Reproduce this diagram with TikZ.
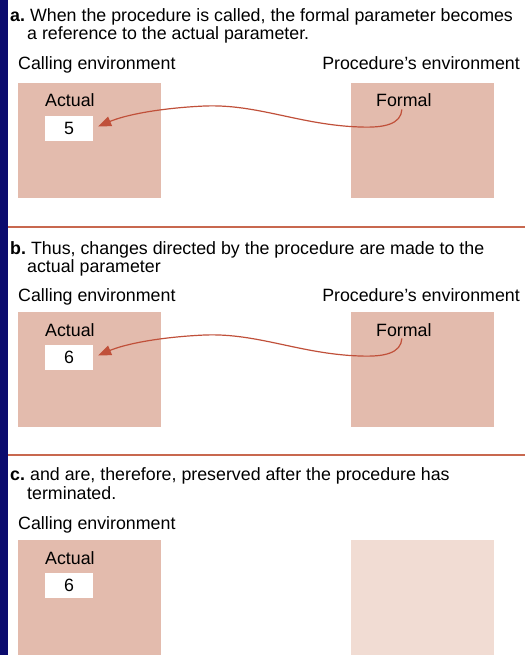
\documentclass[tikz,border=0pt]{standalone}
\usepackage{fontspec}
\setmainfont{Liberation Sans}
\usetikzlibrary{arrows.meta,calc}

\definecolor{barblue}{HTML}{0B0B6E}
\definecolor{envpink}{HTML}{E3BBAD}
\definecolor{envpale}{HTML}{F1DCD3}
\definecolor{refred}{HTML}{C0503A}
\definecolor{rulered}{HTML}{C8684F}

\newcommand\tag[1]{\textbf{#1}\hspace{-1.5pt}}

\tikzset{
  txt/.style={anchor=base west, inner sep=0pt, font=\fontsize{17.8}{20}\selectfont},
  txtr/.style={txt, anchor=base east},
  envbox/.style={fill=envpink, draw=none, anchor=north west, inner sep=0pt,
                 minimum width=143pt, minimum height=115pt},
  valbox/.style={fill=white, draw=none, inner sep=0pt, minimum width=48pt,
                 minimum height=25pt, font=\fontsize{17.8}{20}\selectfont},
  sepline/.style={draw=rulered, line width=2.5pt},
  refarrow/.style={draw=refred, line width=1.2pt,
                   -{Triangle[length=13pt,width=10pt]}},
}

\begin{document}
\begin{tikzpicture}[x=1pt, y=-1pt]
\useasboundingbox (0,0) rectangle (525,655);

% left bar and separators
\fill[barblue] (0,0) rectangle (8,655);
\draw[sepline] (8,227) -- (525,227);
\draw[sepline] (8,455) -- (525,455);

% ---- part a ----
\node[txt] (ha1) at (10,22) {\tag{a.} When the procedure is called, the formal parameter becomes};
\node[txt] (ha2) at (27,40) {a reference to the actual parameter.};
\node[txt] (calA) at (18,70) {Calling environment};
\node[txtr] (proA) at (520,70) {Procedure’s environment};
\node[envbox] (cbA) at (18,83) {};
\node[envbox] (pbA) at (351,83) {};
\node[txt] (acA) at (45,107) {Actual};
\node[valbox] (vA) at (69,128.5) {5};
\node[txt] (fA) at (376,107) {Formal};
\coordinate (a1) at (360,127);
\coordinate (a2) at (205,106);
\draw[refarrow] ($(fA.south)+(-2,2)$) .. controls (401,124) and (385,128) .. (a1)
   .. controls (300,125) and (258,104) .. (a2)
   .. controls (160,108) and (125,115) .. ($(vA.east)+(5,-2)$);

% ---- part b ----
\node[txt] (hb1) at (10,254) {\tag{b.} Thus, changes directed by the procedure are made to the};
\node[txt] (hb2) at (27,272) {actual parameter};
\node[txt] (calB) at (18,301) {Calling environment};
\node[txtr] (proB) at (520,301) {Procedure’s environment};
\begin{scope}[shift={(0,229)}]
\node[envbox] (cbB) at (18,83) {};
\node[envbox] (pbB) at (351,83) {};
\node[txt] (acB) at (45,107) {Actual};
\node[valbox] (vB) at (69,128.5) {6};
\node[txt] (fB) at (376,107) {Formal};
\coordinate (b1) at (360,127);
\coordinate (b2) at (205,106);
\draw[refarrow] ($(fB.south)+(-2,2)$) .. controls (401,124) and (385,128) .. (b1)
   .. controls (300,125) and (258,104) .. (b2)
   .. controls (160,108) and (125,115) .. ($(vB.east)+(5,-2)$);
\end{scope}

% ---- part c ----
\node[txt] (hc1) at (10,480) {\tag{c.} and are, therefore, preserved after the procedure has};
\node[txt] (hc2) at (27,499) {terminated.};
\node[txt] (calC) at (18,529) {Calling environment};
\node[envbox] (cbC) at (18,540) {};
\node[envbox, fill=envpale] (pbC) at (351,540) {};
\node[txt] (acC) at (45,564) {Actual};
\node[valbox] (vC) at (69,585.5) {6};
\end{tikzpicture}
\end{document}
